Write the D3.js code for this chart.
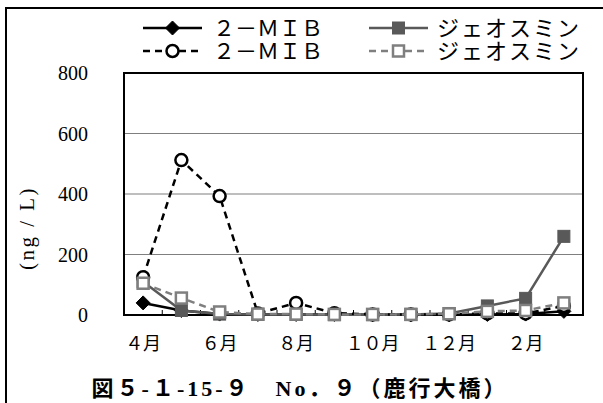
<!DOCTYPE html>
<html>
<head>
<meta charset="utf-8">
<script src="https://cdn.jsdelivr.net/npm/d3@7"></script>
<style>
html,body{margin:0;padding:0;background:#fff;}
svg{display:block;}
</style>
</head>
<body>
<svg id="chart" width="603" height="403"></svg>
<script>
const categories = ["4月","5月","6月","7月","8月","9月","10月","11月","12月","1月","2月","3月"];
const tickLabels = ["４月","","６月","","８月","","１０月","","１２月","","２月",""];
const yTicks = [0, 200, 400, 600, 800];
const mibSolid  = [40, 15, 3, 2, 2, 2, 1, 1, 1, 2, 3, 12];
const geoSolid  = [110, 15, 3, 2, 2, 1, 1, 2, 5, 30, 55, 260];
const mibDashed = [125, 512, 393, 5, 40, 6, 2, 2, 2, 5, 5, 30];
const geoDashed = [105, 56, 10, 3, 3, 2, 2, 2, 4, 12, 15, 40];
const seriesNames = ["２－ＭＩＢ","ジェオスミン","２－ＭＩＢ","ジェオスミン"];
const yTitle = "(ng / L)";
const title = "図５-１-15-９　No．９（鹿行大橋）";

const svg = d3.select("#chart");
const serif = "'Liberation Serif','Noto Sans CJK JP',serif";

// outer frame
svg.append("rect").attr("x",6).attr("y",8).attr("width",700).attr("height",500)
  .attr("fill","none").attr("stroke","#000").attr("stroke-width",2);

const L = 124, T = 73, R = 583, B = 315;
const x = d3.scaleBand().domain(categories).range([L, R]);
const y = d3.scaleLinear().domain([0, 800]).range([B, T]);
const cx = c => x(c) + x.bandwidth()/2;

// gridlines
svg.append("g").selectAll("line").data(yTicks.filter(v => v > 0 && v < 800)).join("line")
  .attr("x1", L).attr("x2", R).attr("y1", d => y(d)).attr("y2", d => y(d))
  .attr("stroke","#7f7f7f").attr("stroke-width",1.2);

// y labels
svg.append("g").selectAll("text").data(yTicks).join("text")
  .attr("x", 88).attr("y", d => y(d)).attr("text-anchor","end")
  .attr("dominant-baseline","central")
  .attr("font-family", serif).attr("font-size", 20).text(d => d);

// y title
svg.append("text").attr("transform","translate(27,228) rotate(-90)")
  .attr("text-anchor","middle").attr("dominant-baseline","central")
  .attr("font-family", serif).attr("font-size", 21).attr("letter-spacing", 2.5).text(yTitle);

// x ticks (inside, at category boundaries)
const bounds = categories.slice(1).map(c => x(c));
svg.append("g").selectAll("line").data(bounds).join("line")
  .attr("x1", d => d).attr("x2", d => d).attr("y1", B).attr("y2", B - 5)
  .attr("stroke","#000").attr("stroke-width",1);

// x labels
svg.append("g").selectAll("text").data(categories).join("text")
  .attr("x", d => cx(d)).attr("y", 344).attr("text-anchor","middle")
  .attr("dominant-baseline","central")
  .attr("font-family", serif).attr("font-size", 18)
  .text((d,i) => tickLabels[i]);

// plot frame
svg.append("rect").attr("x",L).attr("y",T).attr("width",R-L).attr("height",B-T)
  .attr("fill","none").attr("stroke","#000").attr("stroke-width",2);

const line = d3.line().x((d,i) => cx(categories[i])).y(d => y(d));

const styles = [
  {data: mibSolid,  color:"#000",    dash:null,  marker:"diamond", fill:"#000"},
  {data: geoSolid,  color:"#595959", dash:null,  marker:"square",  fill:"#595959"},
  {data: mibDashed, color:"#000",    dash:"7,5", marker:"circle",  fill:"#fff"},
  {data: geoDashed, color:"#7f7f7f", dash:"7,5", marker:"square",  fill:"#fff"}
];

function drawMarker(g, m, px, py) {
  if (m.marker === "diamond") {
    g.append("path").attr("d", `M${px},${py-7}L${px+7},${py}L${px},${py+7}L${px-7},${py}Z`)
      .attr("fill", m.fill).attr("stroke", m.color).attr("stroke-width",1);
  } else if (m.marker === "square") {
    const h = m.fill === "#fff" ? 5.5 : 6;
    g.append("rect").attr("x", px-h).attr("y", py-h).attr("width", 2*h).attr("height", 2*h)
      .attr("fill", m.fill).attr("stroke", m.color).attr("stroke-width", m.fill === "#fff" ? 2.5 : 1);
  } else {
    g.append("circle").attr("cx", px).attr("cy", py).attr("r", 6)
      .attr("fill", m.fill).attr("stroke", m.color).attr("stroke-width", 2.5);
  }
}

styles.forEach(s => {
  const g = svg.append("g");
  g.append("path").attr("d", line(s.data)).attr("fill","none")
    .attr("stroke", s.color).attr("stroke-width", 2.5)
    .attr("stroke-dasharray", s.dash);
  s.data.forEach((v,i) => drawMarker(g, s, cx(categories[i]), y(v)));
});

// legend
const legendPos = [
  {x1:143, x2:202, ty:28, tx:213},
  {x1:369, x2:428, ty:28, tx:437},
  {x1:143, x2:202, ty:51, tx:213},
  {x1:369, x2:428, ty:51, tx:437}
];
styles.forEach((s,i) => {
  const p = legendPos[i];
  const g = svg.append("g");
  g.append("line").attr("x1", p.x1).attr("x2", p.x2).attr("y1", p.ty).attr("y2", p.ty)
    .attr("stroke", s.color).attr("stroke-width", 2.5).attr("stroke-dasharray", s.dash);
  drawMarker(g, s, (p.x1+p.x2)/2, p.ty);
  g.append("text").attr("x", p.tx).attr("y", p.ty).attr("dominant-baseline","central")
    .attr("font-family", serif).attr("font-size", 22).attr("letter-spacing", i%2 ? 2 : 0)
    .text(seriesNames[i]);
});

// title
svg.append("text").attr("x", 300).attr("y", 388).attr("text-anchor","middle")
  .attr("dominant-baseline","central").attr("font-family", serif)
  .attr("font-weight","bold").attr("font-size", 22).attr("letter-spacing", 3).text(title);
</script>
</body>
</html>
